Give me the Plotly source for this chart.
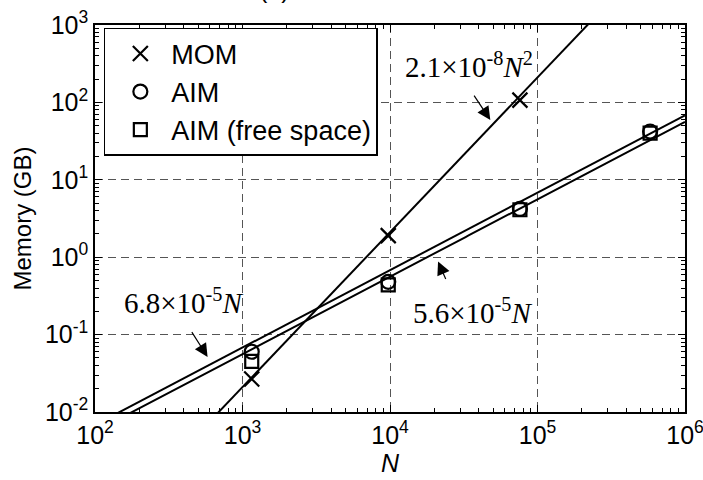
import numpy as np
import plotly.graph_objects as go

# Problem sizes (number of unknowns) and memory use in GB
n_mom = [1155, 9730, 76000]
mem_mom = [0.0267, 1.90, 107]
n_aim = [1155, 9730, 76000, 580000]
mem_aim = [0.060, 0.48, 4.2, 42]
mem_aim_free = [0.045, 0.44, 4.1, 40]

# Fitted scaling laws: memory = coef * N**power
fit_mom = dict(coef=2.1e-8, power=2)
fit_aim_hi = dict(coef=6.8e-5, power=1)
fit_aim_lo = dict(coef=5.6e-5, power=1)

x_ticks = [1e2, 1e3, 1e4, 1e5, 1e6]
x_ticktext = ["10<sup>2</sup>", "10<sup>3</sup>", "10<sup>4</sup>", "10<sup>5</sup>", "10<sup>6</sup>"]
y_ticks = [1e-2, 1e-1, 1e0, 1e1, 1e2, 1e3]
y_ticktext = ["10<sup>-2</sup>", "10<sup>-1</sup>", "10<sup>0</sup>", "10<sup>1</sup>",
              "10<sup>2</sup>", "10<sup>3</sup>"]

n_line = np.logspace(2, 6, 200)


def fit(f, n):
    return f["coef"] * np.asarray(n, dtype=float) ** f["power"]


def minor_vals(lo, hi):
    return [m * 10.0 ** e for e in range(lo, hi) for m in range(2, 10)]


FONT = "Liberation Sans, Arial, sans-serif"
SERIF = "Liberation Serif, Times New Roman, serif"
GRID_DASH = "8px,5px"

fig = go.Figure()
for f in (fit_mom, fit_aim_hi, fit_aim_lo):
    fig.add_trace(go.Scatter(x=n_line, y=fit(f, n_line), mode="lines",
                             line=dict(color="black", width=2), showlegend=False,
                             hoverinfo="skip"))

fig.add_trace(go.Scatter(x=n_mom, y=mem_mom, mode="markers", name="MOM",
                         marker=dict(symbol="x-thin-open", size=15, color="black",
                                     line=dict(color="black", width=2.2))))
fig.add_trace(go.Scatter(x=n_aim, y=mem_aim, mode="markers", name="AIM",
                         marker=dict(symbol="circle-open", size=14, color="black",
                                     line=dict(color="black", width=2.2))))
fig.add_trace(go.Scatter(x=n_aim, y=mem_aim_free, mode="markers", name="AIM (free space)",
                         marker=dict(symbol="square-open", size=13, color="black",
                                     line=dict(color="black", width=2.2))))

# Invisible trace so the top/right tick axes are drawn
fig.add_trace(go.Scatter(x=[1e3], y=[1.0], xaxis="x2", yaxis="y2", mode="markers",
                         marker=dict(opacity=0), showlegend=False, hoverinfo="skip"))

tick_style = dict(ticks="inside", ticklen=7, tickwidth=1, tickcolor="black")
minor_style = dict(tickmode="array", ticks="inside", ticklen=4, tickcolor="black",
                   showgrid=False)

axis_common = dict(
    type="log", showline=True, linecolor="black", linewidth=1.5, mirror=True,
    showgrid=True, gridcolor="#555555", griddash=GRID_DASH, gridwidth=1,
    zeroline=False, tickfont=dict(family=FONT, size=25, color="black"),
    tickmode="array", ticklabeloverflow="allow", automargin=False, **tick_style,
)
fig.update_layout(
    xaxis=dict(**axis_common, range=[2, 6], tickvals=x_ticks, ticktext=x_ticktext,
               minor=dict(tickvals=minor_vals(2, 6), **minor_style),
               title=dict(text="<i>N</i>", font=dict(family=FONT, size=25, color="black"),
                          standoff=2)),
    yaxis=dict(**axis_common, range=[-2, 3], tickvals=y_ticks, ticktext=y_ticktext,
               minor=dict(tickvals=minor_vals(-2, 3), **minor_style),
               title=dict(text="Memory (GB)", font=dict(family=FONT, size=24, color="black"),
                          standoff=6)),
    # Tick marks along the top and right edges
    xaxis2=dict(type="log", range=[2, 6], overlaying="x", side="top", anchor="y2",
                showgrid=False, zeroline=False, showticklabels=False, showline=False,
                automargin=False, tickmode="array", tickvals=x_ticks, **tick_style,
                minor=dict(tickvals=minor_vals(2, 6), **minor_style)),
    yaxis2=dict(type="log", range=[-2, 3], overlaying="y", side="right", anchor="x2",
                showgrid=False, zeroline=False, showticklabels=False, showline=False,
                automargin=False, tickmode="array", tickvals=y_ticks, **tick_style,
                minor=dict(tickvals=minor_vals(-2, 3), **minor_style)),
)

# Labels for the fitted lines
labels = [
    ("2.1×10<sup>-8</sup><i>N</i><sup>2</sup>", 34400, 300),
    ("5.6×10<sup>-5</sup><i>N</i>", 36500, 0.20),
    ("6.8×10<sup>-5</sup><i>N</i>", 400, 0.275),
]
for text, xv, yv in labels:
    fig.add_annotation(x=np.log10(xv), y=np.log10(yv), text=text, showarrow=False,
                       font=dict(family=SERIF, size=29, color="black"))

# Arrows pointing at the fitted lines
arrows = [(fit_mom, 50000, -20, -30, 5), (fit_aim_lo, 20000, 12, 27, 9),
          (fit_aim_hi, 620, -21, -33, 8)]
for f, nv, ax, ay, so in arrows:
    fig.add_annotation(x=np.log10(nv), y=np.log10(float(fit(f, nv))), text="",
                       showarrow=True, arrowhead=2, arrowsize=2.2, arrowwidth=1.2,
                       arrowcolor="black", ax=ax, ay=ay, standoff=so)

# Panel label above the axes
fig.add_annotation(xref="paper", yref="paper", x=0.275, y=1.094, yanchor="middle",
                   text="(a)", showarrow=False,
                   font=dict(family=FONT, size=25, color="black"))

fig.update_layout(
    width=703, height=480,
    margin=dict(l=95, r=18, t=25, b=68, autoexpand=False),
    paper_bgcolor="white", plot_bgcolor="white",
    font=dict(family=FONT, color="black"),
    legend=dict(x=0.015, y=0.9925, xanchor="left", yanchor="top",
                bgcolor="white", bordercolor="black", borderwidth=1.5,
                font=dict(family=FONT, size=27, color="black"),
                itemwidth=52, indentation=4, tracegroupgap=0),
)

fig.write_html("out.html")
